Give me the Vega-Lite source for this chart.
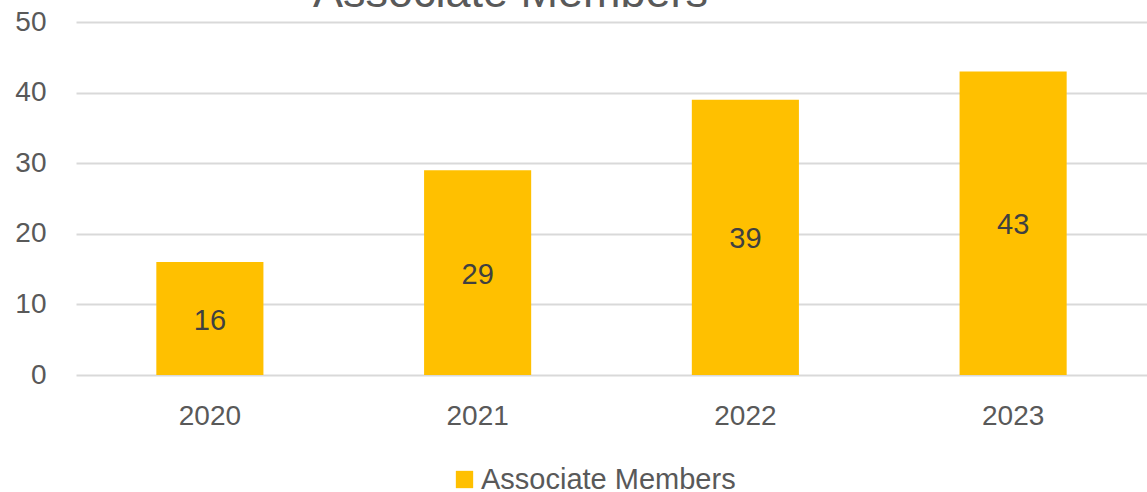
{
  "$schema": "https://vega.github.io/schema/vega-lite/v6.json",
  "autosize": {"type": "none"},
  "width": 1071,
  "height": 353,
  "padding": {"left": 76, "top": 22, "right": 0, "bottom": 117},
  "background": "white",
  "config": {
    "view": {"stroke": null},
    "font": "Liberation Sans"
  },
  "title": {
    "text": "Associate Members",
    "fontSize": 45,
    "fontWeight": "normal",
    "color": "#595959",
    "font": "Liberation Sans",
    "anchor": "middle",
    "frame": "group",
    "dx": -101,
    "baseline": "alphabetic",
    "offset": -44
  },
  "data": {
    "values": [
      {"year": "2020", "value": 16, "series": "Associate Members"},
      {"year": "2021", "value": 29, "series": "Associate Members"},
      {"year": "2022", "value": 39, "series": "Associate Members"},
      {"year": "2023", "value": 43, "series": "Associate Members"}
    ]
  },
  "encoding": {
    "x": {
      "field": "year",
      "type": "nominal",
      "scale": {"paddingInner": 0.6, "paddingOuter": 0.3},
      "axis": {
        "title": null,
        "labelAngle": 0,
        "labelFontSize": 28,
        "labelColor": "#595959",
        "labelPadding": 27,
        "ticks": false,
        "domain": false,
        "grid": false
      }
    }
  },
  "layer": [
    {
      "mark": {"type": "bar", "color": "#FFC000"},
      "encoding": {
        "y": {
          "field": "value",
          "type": "quantitative",
          "scale": {"domain": [0, 50], "nice": false},
          "axis": {
            "title": null,
            "values": [0, 10, 20, 30, 40, 50],
            "labelFontSize": 28,
            "labelColor": "#595959",
            "labelPadding": 30,
            "ticks": false,
            "tickSize": 0,
            "domain": false,
            "grid": true,
            "gridColor": "#D9D9D9",
            "gridWidth": 2
          }
        },
        "fill": {
          "field": "series",
          "type": "nominal",
          "scale": {"range": ["#FFC000"]},
          "legend": {
            "title": null,
            "orient": "none",
            "legendX": 374,
            "legendY": 443,
            "direction": "horizontal",
            "symbolType": "square",
            "symbolSize": 300,
            "symbolStrokeWidth": 0,
            "labelFontSize": 29,
            "labelLimit": 500,
            "labelColor": "#595959",
            "labelOffset": 2,
            "padding": 0
          }
        }
      }
    },
    {
      "mark": {"type": "text", "fontSize": 29, "color": "#404040", "baseline": "middle", "align": "center", "dy": 2},
      "encoding": {
        "y": {
          "field": "value",
          "type": "quantitative",
          "scale": {"domain": [0, 100], "nice": false},
          "axis": null
        },
        "text": {"field": "value", "type": "quantitative"}
      }
    }
  ],
  "resolve": {"scale": {"y": "independent"}}
}
